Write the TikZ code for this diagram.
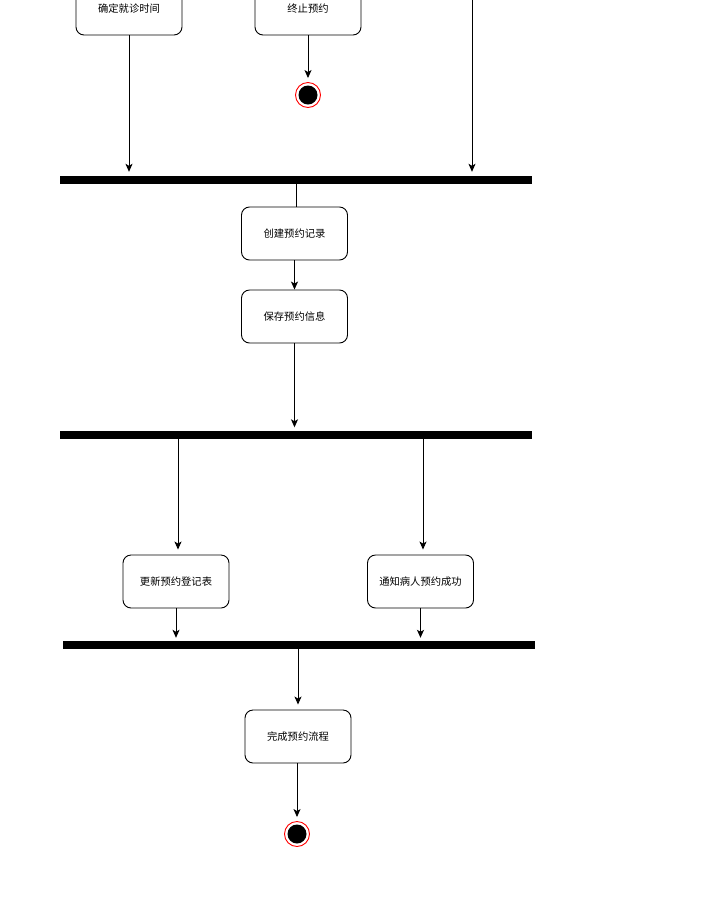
\documentclass[tikz,border=0pt]{standalone}
\usepackage{fontspec}
\newfontfamily\cjk{Noto Sans CJK SC}
\usetikzlibrary{arrows.meta}
\begin{document}
\begin{tikzpicture}[x=1pt,y=-1pt,
  actbox/.style={draw=black,line width=0.9pt,rounded corners=8pt,fill=white,
    minimum width=106pt,minimum height=53pt,inner sep=0pt,
    font=\cjk\fontsize{10.3}{12}\selectfont},
  syncbar/.style={fill=black,draw=none,minimum height=8pt,inner sep=0pt},
  flow/.style={draw=black,line width=0.9pt,-{Stealth[length=8pt,width=7pt,inset=2pt]}},
  plain/.style={draw=black,line width=0.9pt},
  endring/.style={circle,draw=red,line width=0.9pt,fill=white,minimum size=25pt,inner sep=0pt},
  enddot/.style={circle,fill=black,minimum size=19pt,inner sep=0pt}]
\useasboundingbox (0,0) rectangle (711,898);
\clip (0,0) rectangle (711,898);
\fill[white] (0,0) rectangle (711,898);
% action nodes
\node[actbox] (b1) at (129,8.5) {确定就诊时间};
\node[actbox] (b2) at (308,8.5) {终止预约};
\node[actbox] (c1) at (294.5,233.5) {创建预约记录};
\node[actbox] (c2) at (294.5,316.5) {保存预约信息};
\node[actbox] (d1) at (176,581.5) {更新预约登记表};
\node[actbox] (d2) at (420.5,581.5) {通知病人预约成功};
\node[actbox] (e1) at (298,736.5) {完成预约流程};
% bars
\node[syncbar,minimum width=472pt] (bar1) at (296,180) {};
\node[syncbar,minimum width=472pt] (bar2) at (296,434.5) {};
\node[syncbar,minimum width=472pt] (bar3) at (299,645) {};
% end nodes
\node[endring] (end1) at (308,95) {};
\node[enddot] at (end1.center) {};
\node[endring] (end2) at (297,834) {};
\node[enddot] at (end2.center) {};
\coordinate (topin) at (472,0);
% connectors
\draw[flow,shorten >=4pt] (b1.south) -- (b1.south |- bar1.north);
\draw[flow,shorten >=4pt] (topin) -- (topin |- bar1.north);
\draw[flow,shorten >=4pt] (b2.south) -- (end1.north);
\draw[plain] (bar1.south) -- (bar1.south |- c1.north);
\draw[flow] (c1.south) -- (c2.north);
\draw[flow,shorten >=3pt] (c2.south) -- (c2.south |- bar2.north);
\draw[flow,shorten >=5pt] ([xshift=2pt]bar2.south -| d1.north) -- ([xshift=2pt]d1.north);
\draw[flow,shorten >=5pt] ([xshift=2.5pt]bar2.south -| d2.north) -- ([xshift=2.5pt]d2.north);
\draw[flow,shorten >=3pt] (d1.south) -- (d1.south |- bar3.north);
\draw[flow,shorten >=3pt] (d2.south) -- (d2.south |- bar3.north);
\draw[flow,shorten >=5pt] (bar3.south -| e1.north) -- (e1.north);
\draw[flow,shorten >=4pt] (end2.north |- e1.south) -- (end2.north);
\end{tikzpicture}
\end{document}
